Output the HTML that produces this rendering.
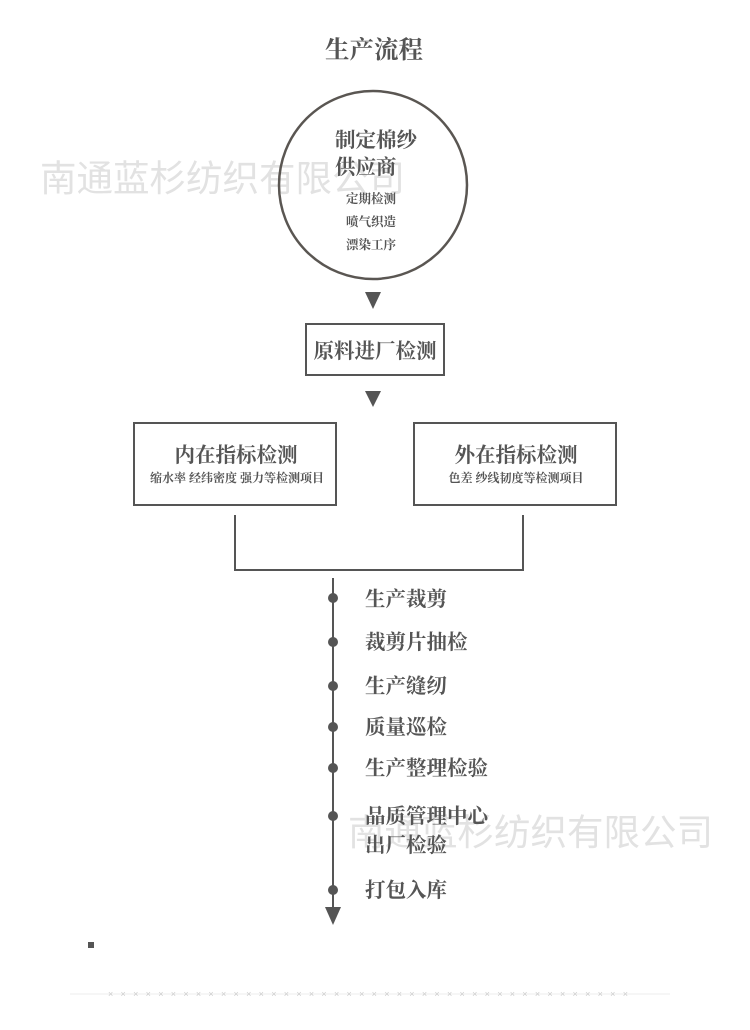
<!DOCTYPE html>
<html><head><meta charset="utf-8"><style>
html,body{margin:0;padding:0;background:#fff;width:750px;height:1030px;overflow:hidden}
svg{display:block}
.s{font-family:"Liberation Serif","Noto Serif CJK SC",serif;fill:#555;font-weight:bold}
.w{font-family:"Liberation Sans","Noto Sans CJK SC",sans-serif;fill:#e2e2e2}
</style></head><body>
<svg width="750" height="1030" viewBox="0 0 750 1030">
<text class="w" x="40" y="191" font-size="36.5">南通蓝杉纺织有限公司</text>
<text class="w" x="348" y="845" font-size="36.5">南通蓝杉纺织有限公司</text>
<text class="s" x="374" y="58" font-size="24.5" text-anchor="middle">生产流程</text>
<circle cx="373" cy="185" r="94" fill="none" stroke="#5a5652" stroke-width="2.5"/>
<text class="s" x="335" y="147" font-size="20.5">制定棉纱</text>
<text class="s" x="335" y="174" font-size="20.5">供应商</text>
<text class="s" x="346" y="203" font-size="12.5">定期检测</text>
<text class="s" x="346" y="226" font-size="12.5">喷气织造</text>
<text class="s" x="346" y="249" font-size="12.5">漂染工序</text>
<polygon points="365,292 381,292 373,309" fill="#555"/>
<rect x="306" y="324" width="138" height="51" fill="none" stroke="#555" stroke-width="2"/>
<text class="s" x="375" y="358" font-size="20.5" text-anchor="middle">原料进厂检测</text>
<polygon points="365,391 381,391 373,407" fill="#555"/>
<rect x="134" y="423" width="202" height="82" fill="none" stroke="#555" stroke-width="2"/>
<rect x="414" y="423" width="202" height="82" fill="none" stroke="#555" stroke-width="2"/>
<text class="s" x="236" y="462" font-size="20.5" text-anchor="middle">内在指标检测</text>
<text class="s" x="237" y="482" font-size="12" text-anchor="middle">缩水率 经纬密度 强力等检测项目</text>
<text class="s" x="516" y="462" font-size="20.5" text-anchor="middle">外在指标检测</text>
<text class="s" x="516" y="482" font-size="12" text-anchor="middle">色差 纱线韧度等检测项目</text>
<polyline points="235,515 235,570 523,570 523,515" fill="none" stroke="#555" stroke-width="2"/>
<line x1="333" y1="578" x2="333" y2="912" stroke="#555" stroke-width="2"/>
<polygon points="325,907 341,907 333,925" fill="#555"/>
<g fill="#555">
<circle cx="333" cy="598" r="5"/><circle cx="333" cy="642" r="5"/><circle cx="333" cy="686" r="5"/>
<circle cx="333" cy="727" r="5"/><circle cx="333" cy="768" r="5"/><circle cx="333" cy="816" r="5"/>
<circle cx="333" cy="890" r="5"/></g>
<g font-size="20.5">
<text class="s" x="365" y="606">生产裁剪</text>
<text class="s" x="365" y="649">裁剪片抽检</text>
<text class="s" x="365" y="693">生产缝纫</text>
<text class="s" x="365" y="734">质量巡检</text>
<text class="s" x="365" y="775">生产整理检验</text>
<text class="s" x="365" y="823">品质管理中心</text>
<text class="s" x="365" y="852">出厂检验</text>
<text class="s" x="365" y="897">打包入库</text>
</g>
<rect x="88" y="942" width="6" height="6" fill="#555"/>
<line x1="70" y1="994" x2="670" y2="994" stroke="#eee" stroke-width="1"/>
<text x="108" y="997" font-size="9" fill="#ccc" font-family="Liberation Sans,sans-serif" textLength="520">× × × × × × × × × × × × × × × × × × × × × × × × × × × × × × × × × × × × × × × × × ×</text>
</svg>
</body></html>
